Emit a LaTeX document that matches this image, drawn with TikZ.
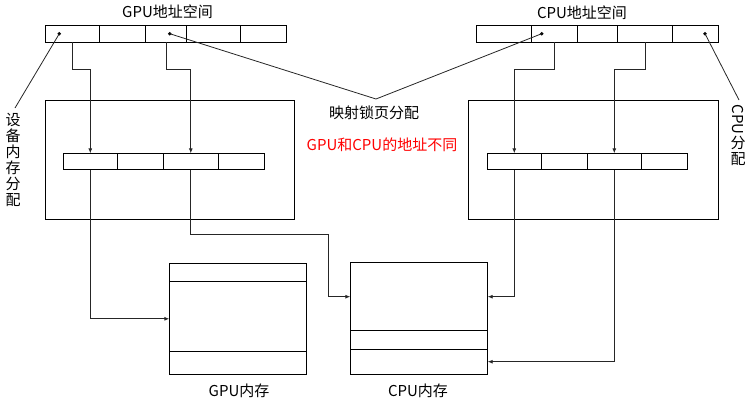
\documentclass[tikz,border=0pt]{standalone}
\usepackage{fontspec}
\setmainfont{Noto Sans CJK SC}
\usetikzlibrary{arrows.meta,calc}
\begin{document}
\begin{tikzpicture}[x=1pt,y=-1pt,
  cell/.style={draw=black, line width=1pt, minimum height=16.6pt, inner sep=0pt, outer sep=0pt, anchor=north west},
  box/.style={draw=black, line width=1pt, inner sep=0pt, outer sep=0pt, anchor=north west},
  conn/.style={draw=black!85, line width=0.9pt, -{Latex[length=5pt,width=4pt]}},
  ann/.style={draw=black!85, line width=0.8pt},
  lab/.style={inner sep=0pt, font=\fontsize{15}{16}\selectfont},
  vlab/.style={inner sep=0pt, align=center, font=\fontsize{15}{16}\selectfont},
  dot/.style={fill=black}]
\useasboundingbox (0,0) rectangle (754,405);

% GPU address space bar
\node[cell, minimum width=53.6pt] (g1) at (45.7,25.7) {};
\node[cell, minimum width=46.4pt] (g2) at (99.3,25.7) {};
\node[cell, minimum width=41pt]   (g3) at (145.7,25.7) {};
\node[cell, minimum width=54pt]   (g4) at (186.7,25.7) {};
\node[cell, minimum width=45.6pt] (g5) at (240.7,25.7) {};
\node[lab] (gtitle) at (167.5,12) {GPU地址空间};

% CPU address space bar
\node[cell, minimum width=55pt]   (c1) at (476.3,25.7) {};
\node[cell, minimum width=46pt]   (c2) at (531.3,25.7) {};
\node[cell, minimum width=40.4pt] (c3) at (577.3,25.7) {};
\node[cell, minimum width=54.6pt] (c4) at (617.7,25.7) {};
\node[cell, minimum width=46pt]   (c5) at (672.3,25.7) {};
\node[lab] (ctitle) at (582,13) {CPU地址空间};

% device boxes
\node[box, minimum width=248.6pt, minimum height=118.7pt] (gdev) at (45.7,100.3) {};
\node[box, minimum width=249.6pt, minimum height=118.7pt] (cdev) at (468.7,100.3) {};

% inner bars
\node[cell, minimum width=54pt] (gi1) at (63.3,153.3) {};
\node[cell, minimum width=46pt] (gi2) at (117.3,153.3) {};
\node[cell, minimum width=55pt] (gi3) at (163.3,153.3) {};
\node[cell, minimum width=46pt] (gi4) at (218.3,153.3) {};

\node[cell, minimum width=54pt] (ci1) at (487.3,153.3) {};
\node[cell, minimum width=46pt] (ci2) at (541.3,153.3) {};
\node[cell, minimum width=54pt] (ci3) at (587.3,153.3) {};
\node[cell, minimum width=46pt] (ci4) at (641.3,153.3) {};

% memories
\node[box, minimum width=137.4pt, minimum height=111pt] (gm) at (169.3,263.3) {};
\draw[line width=1pt] ($(gm.north west)+(0,18)$) -- ($(gm.north east)+(0,18)$);
\draw[line width=1pt] ($(gm.north west)+(0,88.4)$) -- ($(gm.north east)+(0,88.4)$);
\node[lab] (gmlab) at (239,391) {GPU内存};

\node[box, minimum width=137.4pt, minimum height=112pt] (cm) at (350.3,262.3) {};
\draw[line width=1pt] ($(cm.north west)+(0,68)$) -- ($(cm.north east)+(0,68)$);
\draw[line width=1pt] ($(cm.north west)+(0,87)$) -- ($(cm.north east)+(0,87)$);
\node[lab] (cmlab) at (418,391) {CPU内存};

% connectors from address spaces to device page tables
\coordinate (lev) at (0,69);
\draw[conn] (g1.south) -- (g1.south |- lev) -| (gi1.north);
\draw[conn] (g3.south) -- (g3.south |- lev) -| (gi3.north);
\draw[conn] (c2.south) -- (c2.south |- lev) -| (ci1.north);
\draw[conn] (c4.south) -- (c4.south |- lev) -| (ci3.north);

% connectors to memories
\coordinate (lev2) at (0,234);
\coordinate (bend) at (328.7,234);
\coordinate (cin1) at ($(cm.north west)+(0,34.4)$);
\coordinate (cin2) at ($(cm.north east)+(0,34.4)$);
\coordinate (cin3) at ($(cm.north east)+(0,99.4)$);
\draw[conn] (gi1.south) |- (gm.west);
\draw[conn] (gi3.south) -- (gi3.south |- lev2) -- (bend) |- (cin1);
\draw[conn] (ci1.south) |- (cin2);
\draw[conn] (ci3.south) |- (cin3);

% dots and annotation lines
\coordinate (d1) at (59.3,33.7);
\coordinate (d2) at (169.7,33.7);
\coordinate (d3) at (541.7,33.7);
\coordinate (d4) at (705,33.7);
\foreach \d in {d1,d2,d3,d4} \fill[dot] (\d) circle[radius=1.9pt];

\node[vlab] (devlab) at (13,160) {设\\备\\内\\存\\分\\配};
\node[vlab] (cpulab) at (738,135) {\rotatebox{-90}{CPU}\\分\\配};
\node[lab] (map) at (374,113) {映射锁页分配};
\node[lab, text=red] (diff) at (382,145) {GPU和CPU的地址不同};

\coordinate (e1) at (15,108);
\coordinate (meet) at (376,99);
\coordinate (e4) at (739,100);
\draw[ann] (d1) -- (e1);
\draw[ann] (d2) -- (meet);
\draw[ann] (d3) -- (meet);
\draw[ann] (d4) -- (e4);
\end{tikzpicture}
\end{document}
